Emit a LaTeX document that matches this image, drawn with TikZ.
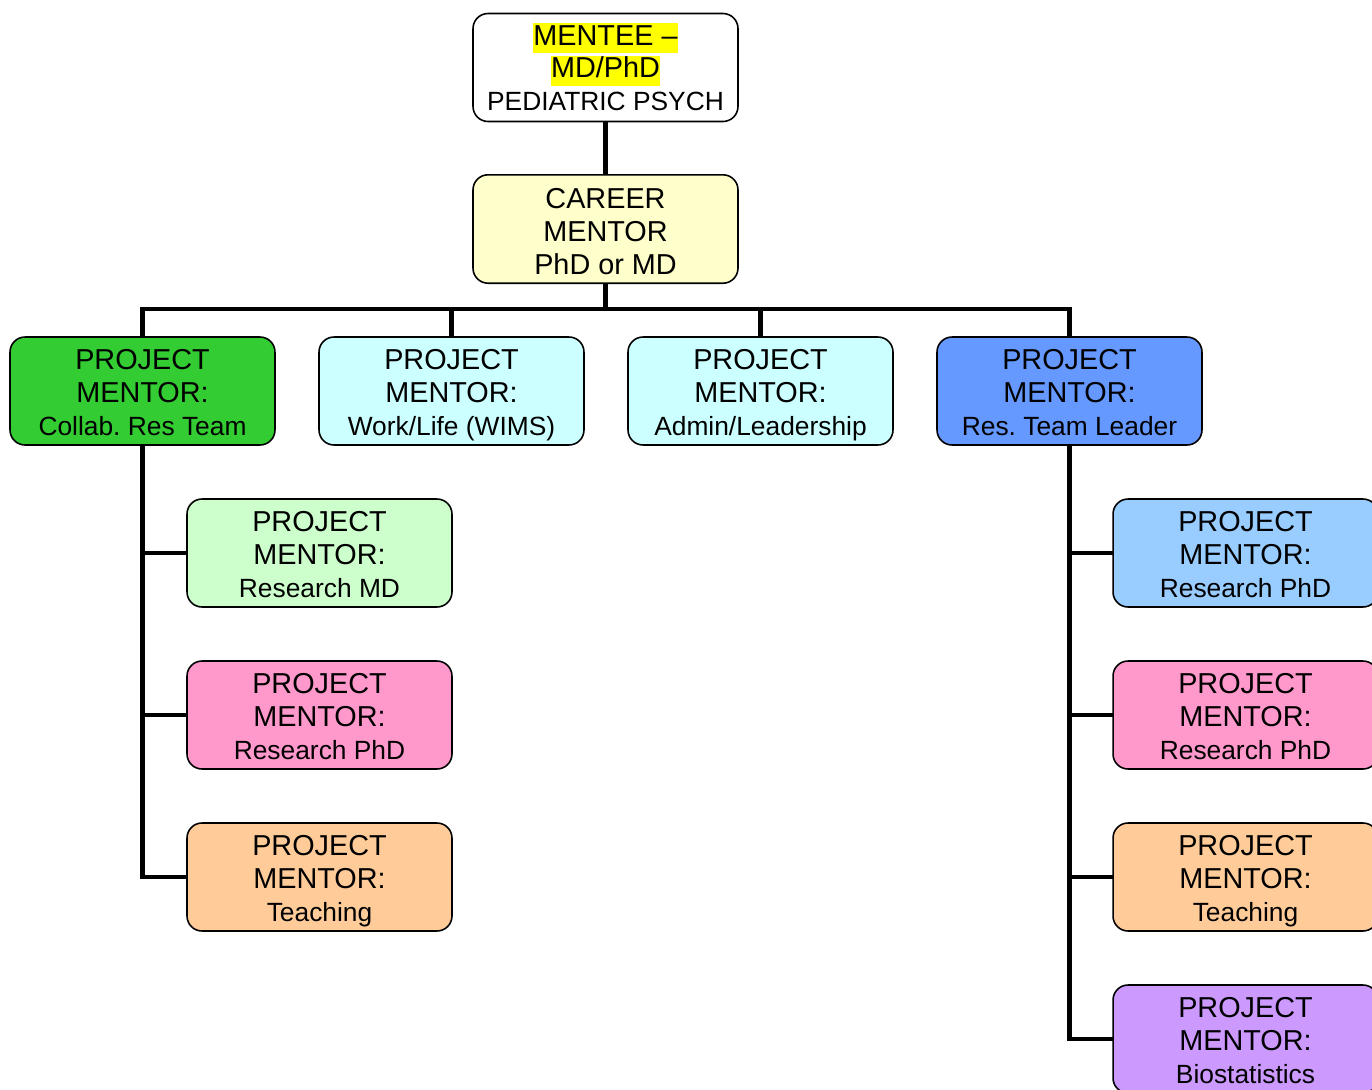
\documentclass[tikz,border=0pt]{standalone}
\usepackage{fontspec}
\setmainfont{Liberation Sans}
\usetikzlibrary{backgrounds}
\frenchspacing
\definecolor{cwhite}{HTML}{FFFFFF}
\definecolor{cyellow}{HTML}{FFFFCC}
\definecolor{cgreen}{HTML}{33CC33}
\definecolor{ccyan}{HTML}{CCFFFF}
\definecolor{cblue}{HTML}{6699FF}
\definecolor{cltgreen}{HTML}{CCFFCC}
\definecolor{cpink}{HTML}{FF99CC}
\definecolor{cpeach}{HTML}{FFCC99}
\definecolor{cltblue}{HTML}{99CCFF}
\definecolor{cpurple}{HTML}{CC99FF}
\definecolor{hilite}{HTML}{FFFF00}
\newcommand{\bigline}{\fontsize{16.4}{18.7}\selectfont}
\newcommand{\smallline}{\fontsize{15}{18.7}\selectfont}
% fixed top and bottom struts keep every box's text block the same size
\newcommand{\topstrut}[1][18pt]{\rule{0pt}{#1}}
\newcommand{\botstrut}{\rule[-5pt]{0pt}{5pt}}
\newcommand{\hl}[1]{{\setlength{\fboxsep}{0pt}\colorbox{hilite}{\rule[-4.5pt]{0pt}{17pt}#1}}}
\newcommand{\mentortext}[1]{\topstrut PROJECT\\MENTOR:\\\smallline #1\botstrut}
\begin{document}
\begin{tikzpicture}[x=0.02cm,y=-0.02cm,
  mbox/.style={draw=black, line width=0.9pt, rounded corners=0.3cm,
    minimum width=5.3cm, minimum height=2.16cm, inner sep=0pt,
    align=center, text=black, font=\bigline},
  link/.style={draw=black, line width=2.8pt, line cap=rect, line join=miter}]
\useasboundingbox (0,0) rectangle (1372,1089);

% top of the hierarchy
\node[mbox, fill=cwhite] (mentee) at (605.5,67.5)
  {\topstrut[16.8pt]\hl{MENTEE --}\\\hl{MD/PhD}\\\smallline PEDIATRIC PSYCH\botstrut};
\node[mbox, fill=cyellow] (career) at (605.5,229)
  {\topstrut[19.3pt]CAREER\\MENTOR\\PhD or MD\botstrut};

% first row of project mentors
\node[mbox, fill=cgreen] (p1) at (142.5,391) {\mentortext{Collab. Res Team}};
\node[mbox, fill=ccyan]  (p2) at (451.5,391) {\mentortext{Work/Life (WIMS)}};
\node[mbox, fill=ccyan]  (p3) at (760.5,391) {\mentortext{Admin/Leadership}};
\node[mbox, fill=cblue]  (p4) at (1069.5,391) {\mentortext{Res. Team Leader}};

% left branch
\node[mbox, fill=cltgreen] (l1) at (319.5,553) {\mentortext{Research MD}};
\node[mbox, fill=cpink]    (l2) at (319.5,715) {\mentortext{Research PhD}};
\node[mbox, fill=cpeach]   (l3) at (319.5,877) {\mentortext{Teaching}};

% right branch
\node[mbox, fill=cltblue] (r1) at (1245.5,553) {\mentortext{Research PhD}};
\node[mbox, fill=cpink]   (r2) at (1245.5,715) {\mentortext{Research PhD}};
\node[mbox, fill=cpeach]  (r3) at (1245.5,877) {\mentortext{Teaching}};
\node[mbox, fill=cpurple] (r4) at (1245.5,1039) {\mentortext{Biostatistics}};

% connectors, kept behind the boxes
\coordinate (bus) at (605.5,309);
\begin{scope}[on background layer]
\draw[link] (mentee.south) -- (career.north);
\draw[link] (career.south) -- (bus);
\draw[link] (p1.north) |- (bus) -| (p4.north);
\draw[link] (p2.north) -- (p2.north |- bus);
\draw[link] (p3.north) -- (p3.north |- bus);

\draw[link] (p1.south) |- (l3.west);
\draw[link] (l1.west) -- (l1.west -| p1.south);
\draw[link] (l2.west) -- (l2.west -| p1.south);

\draw[link] (p4.south) |- (r4.west);
\draw[link] (r1.west) -- (r1.west -| p4.south);
\draw[link] (r2.west) -- (r2.west -| p4.south);
\draw[link] (r3.west) -- (r3.west -| p4.south);
\end{scope}
\end{tikzpicture}
\end{document}
